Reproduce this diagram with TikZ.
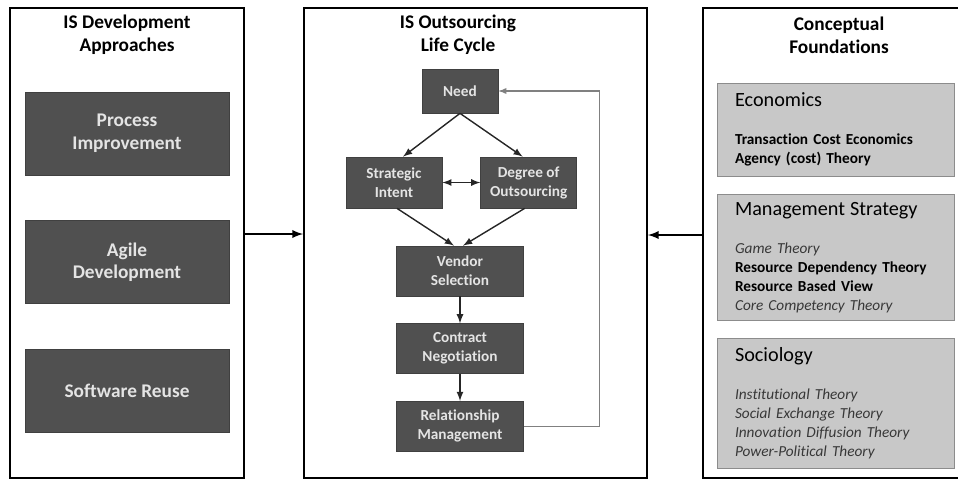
\documentclass[tikz,border=0pt]{standalone}
\usepackage{fontspec}
\setmainfont{Carlito}[Ligatures=NoCommon]
\usetikzlibrary{positioning}
\definecolor{boxdark}{HTML}{505050}
\definecolor{boxtext}{HTML}{E4E4E4}
\definecolor{boxlight}{HTML}{C8C8C8}
\definecolor{boxline}{HTML}{8C8C8C}
\definecolor{feedline}{HTML}{808080}
\definecolor{softtext}{HTML}{383838}
\newcommand\theoryhead[1]{{\fontsize{11.5}{14}\selectfont\color{black} #1}}
\newcommand\softitem[1]{\textcolor{softtext}{\itshape #1}}

\begin{document}
\begin{tikzpicture}[x=0.02cm, y=-0.02cm, >=latex,
  panel/.style={draw, line width=1.1pt, minimum width=#1, minimum height=9.4cm, inner sep=0},
  ptitle/.style={font=\fontsize{11}{13}\selectfont\bfseries, align=center, inner sep=0},
  bigbox/.style={fill=boxdark, draw=black!75, text=boxtext, font=\fontsize{11}{13}\selectfont\bfseries, align=center, minimum width=4.08cm, minimum height=1.66cm},
  stepbox/.style={fill=boxdark, draw=black!75, text=boxtext, font=\fontsize{8.7}{10.8}\selectfont\bfseries, align=center, minimum width=#1, minimum height=1.0cm},
  stepbox/.default=2.54cm,
  theorybox/.style={fill=boxlight, draw=boxline, text width=4.02cm, inner xsep=0.36cm, minimum height=#1, align=left, font=\fontsize{8.7}{10.8}\selectfont},
  flow/.style={->, line width=0.8pt, black!85}]
  \useasboundingbox (0,0) rectangle (958,481);

  % the three panels
  \node (left) [panel=4.68cm] at (127,243) {};
  \node (mid) [panel=6.86cm] at (475.5,243) {};
  \node (right) [panel=5.3cm] at (835.5,243) {};
  \node (lefttitle) [ptitle] at (127,35) {IS Development\\Approaches};
  \node (midtitle) [ptitle] at (458,35) {IS Outsourcing\\Life Cycle};
  \node (righttitle) [ptitle] at (839,35) {Conceptual\\Foundations};

  % development approaches
  \node (process) [bigbox] at (127,133.5) {Process\\Improvement};
  \node (agile) [bigbox, below=0.9cm of process] {Agile\\Development};
  \node (reuse) [bigbox, below=0.9cm of agile] {Software Reuse};

  % life cycle
  \node (need) [stepbox=1.52cm, minimum height=0.88cm] at (460,91) {Need};
  \node (strat) [stepbox=1.92cm, minimum height=1.02cm] at (394,182.5) {Strategic\\Intent};
  \node (degree) [stepbox=1.92cm, minimum height=1.02cm, right=0.76cm of strat] {Degree of\\Outsourcing};
  \node (vendor) [stepbox] at (460,271) {Vendor\\Selection};
  \node (contract) [stepbox, below=0.54cm of vendor] {Contract\\Negotiation};
  \node (relation) [stepbox, below=0.54cm of contract] {Relationship\\Management};
  \draw[flow] (need.south) -- ([xshift=0.18cm]strat.north);
  \draw[flow] (need.south) -- ([xshift=-0.12cm]degree.north);
  \draw[flow, <->] (strat.east) -- (degree.west);
  \draw[flow] ([xshift=0.06cm]strat.south) -- ([xshift=-0.12cm]vendor.north);
  \draw[flow] ([xshift=-0.08cm]degree.south) -- ([xshift=0.06cm]vendor.north);
  \draw[flow] (vendor) -- (contract);
  \draw[flow] (contract) -- (relation);
  \draw[->, feedline, line width=0.6pt] (relation.east) -- ++(76,0) |- (need.east);

  % conceptual foundations
  \node (econ) [theorybox=1.86cm] at (835.5,129.5) {\theoryhead{Economics}\\[11pt]
    \textbf{Transaction Cost Economics}\\
    \textbf{Agency (cost) Theory}};
  \node (mgmt) [theorybox=2.52cm, below=0.36cm of econ] {\theoryhead{Management Strategy}\\[11pt]
    \softitem{Game Theory}\\
    \textbf{Resource Dependency Theory}\\
    \textbf{Resource Based View}\\
    \softitem{Core Competency Theory}};
  \node (socio) [theorybox=2.6cm, below=0.34cm of mgmt] {\theoryhead{Sociology}\\[11pt]
    \softitem{Institutional Theory}\\
    \softitem{Social Exchange Theory}\\
    \softitem{Innovation Diffusion Theory}\\
    \softitem{Power-Political Theory}};

  % panel links
  \draw[->, line width=1.1pt] ([yshift=0.18cm]left.east) -- ([yshift=0.18cm]mid.west);
  \draw[->, line width=1.1pt] ([yshift=0.16cm]right.west) -- ([yshift=0.16cm]mid.east);
\end{tikzpicture}
\end{document}
